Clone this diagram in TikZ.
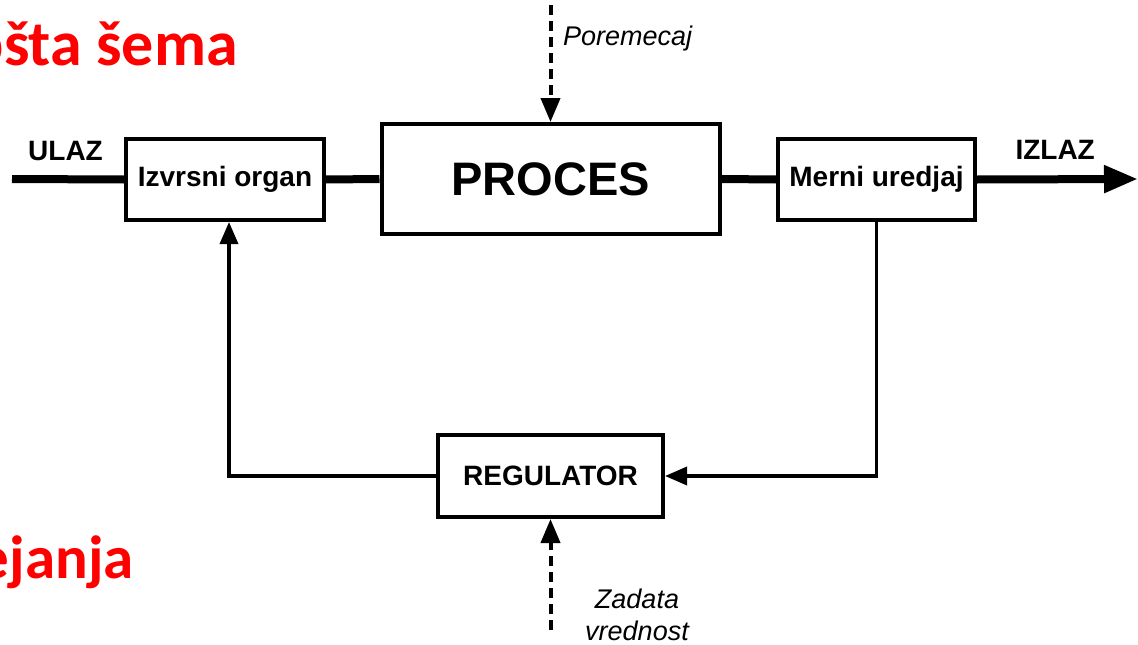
\documentclass[tikz,border=0pt]{standalone}
\usepackage{fontspec}
\setmainfont{Liberation Sans}
\newfontfamily\titlefont{Carlito}
\usetikzlibrary{arrows.meta,calc}
\tikzset{
  blockbox/.style={draw, line width=4pt, fill=white, inner sep=0pt,
                   font=\bfseries\fontsize{28}{30}\selectfont},
  mainline/.style={line width=8pt},
  fbline/.style={line width=3.5pt, -{Triangle[length=22pt,width=18pt]}},
  signal/.style={line width=4pt, dash pattern=on 10pt off 6pt,
                 -{Triangle[length=24pt,width=19pt]}},
  sidelabel/.style={font=\bfseries\fontsize{28}{30}\selectfont},
  inlabel/.style={font=\itshape\fontsize{27}{32}\selectfont},
  heading/.style={text=red, font=\titlefont\bfseries\fontsize{64}{70}\selectfont, inner sep=0pt}
}
\begin{document}
\begin{tikzpicture}[x=1pt,y=-1pt]
\useasboundingbox (0,0) rectangle (1138,645);
\clip (0,0) rectangle (1138,645);

% slide heading fragments
\node[heading, anchor=base east] (h1) at (238,65) {pšta šema};
\node[heading, anchor=base east, font=\titlefont\bfseries\fontsize{61}{70}\selectfont] (h2) at (134,578) {ejanja};

\coordinate (in) at (12,179);
\coordinate (out) at (1138,179);

% blocks
\node[blockbox, minimum width=198pt, minimum height=81pt] (izv) at (225,179.5) {Izvrsni organ};
\node[blockbox, minimum width=338pt, minimum height=110pt,
      font=\bfseries\fontsize{47}{50}\selectfont] (proc) at (550.5,179) {PROCES};
\node[blockbox, minimum width=197pt, minimum height=81pt] (mer) at (876.5,179.5) {Merni uredjaj};
\node[blockbox, minimum width=225pt, minimum height=82pt] (reg) at (550.5,476) {REGULATOR};

% forward path
\draw[mainline] (in) -- (izv.west);
\draw[mainline] (izv.east) -- (proc.west);
\draw[mainline] (proc.east) -- (mer.west);
\draw[mainline, -{Triangle[length=34pt,width=26pt]}] (mer.east) -- (out);
\node[sidelabel, anchor=base west, inner sep=0pt] (ulaz) at (28,160) {ULAZ};
\node[sidelabel, anchor=base east, inner sep=0pt] (izlaz) at (1095,159) {IZLAZ};

% feedback loop
\draw[fbline] (mer.south) |- (reg.east);
\draw[fbline] (reg.west) -| ([xshift=4pt]izv.south);

% disturbance and set point
\coordinate (dist) at (550.5,5);
\coordinate (setp) at (550.5,630);
\draw[signal] (dist) -- (proc.north);
\draw[signal] (setp) -- (reg.south);
\node[inlabel, anchor=base west, inner sep=0pt] (por) at (563,45) {Poremecaj};
\node[inlabel, align=center, inner sep=0pt, anchor=base] (zad) at (637,640) {Zadata\\vrednost};
\end{tikzpicture}
\end{document}
